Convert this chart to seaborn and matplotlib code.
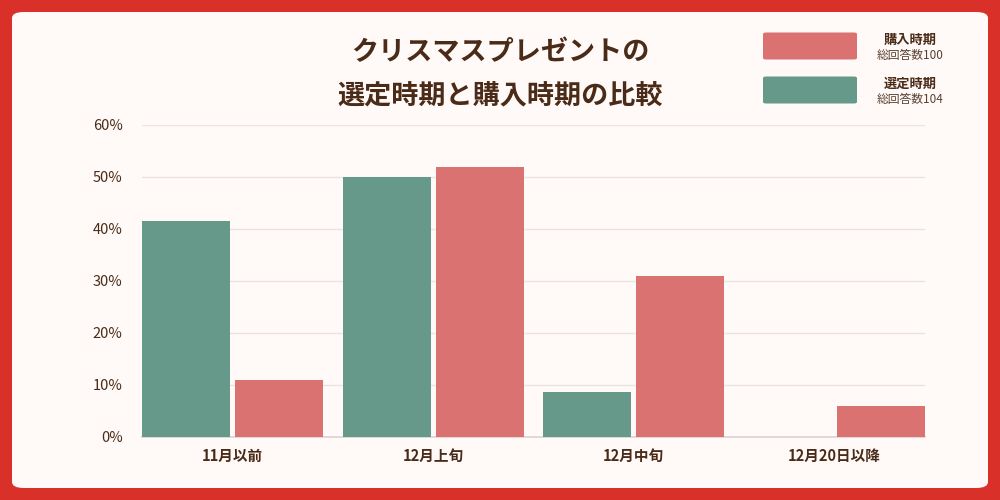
import pandas as pd
import matplotlib.pyplot as plt
import seaborn as sns
from matplotlib.patches import FancyBboxPatch

# data (percent)
periods = ['11月以前', '12月上旬', '12月中旬', '12月20日以降']
selected = [41.5, 50.0, 8.7, 0.0]     # 選定時期
purchased = [11.0, 52.0, 31.0, 5.9]   # 購入時期
series_names = ['選定時期', '購入時期']
series_totals = ['総回答数104', '総回答数100']
yticks = [0, 10, 20, 30, 40, 50, 60]

green = '#67998A'
red = '#D97271'
brown = '#4A2B17'

df = pd.DataFrame({
    'period': periods * 2,
    'value': selected + purchased,
    'series': [series_names[0]] * 4 + [series_names[1]] * 4,
})

sns.set_theme(style='white')
plt.rcParams['font.family'] = ['Noto Sans CJK JP', 'DejaVu Sans']

fig = plt.figure(figsize=(10, 5), dpi=100)
fig.patch.set_facecolor('#D9302A')
# white rounded panel behind everything
panel = FancyBboxPatch((0.012, 0.024), 0.976, 0.952, boxstyle='round,pad=0,rounding_size=0.012',
                       transform=fig.transFigure, facecolor='#FFFAF8', edgecolor='none', zorder=-10)
fig.patches.append(panel)

ax = fig.add_axes([0.142, 0.126, 0.783, 0.624])
ax.set_facecolor('none')
sns.barplot(data=df, x='period', y='value', hue='series', order=periods, hue_order=series_names,
            palette=[green, red], saturation=1, width=0.93, gap=0.055, linewidth=0,
            legend=False, ax=ax, zorder=3)

ax.set_xlim(-0.452, 3.452)
ax.set_ylim(0, 60)
ax.set_yticks(yticks)
ax.set_yticklabels([f'{t}%' for t in yticks], fontsize=10.5, color=brown)
ax.tick_params(axis='y', length=0, pad=14)
ax.tick_params(axis='x', length=0, pad=8)
for lab in ax.get_xticklabels():
    lab.set_fontweight('bold')
    lab.set_fontsize(10.5)
    lab.set_color(brown)
ax.set_xlabel('')
ax.set_ylabel('')
ax.yaxis.grid(True, color='#EAE3E1', linewidth=1, zorder=0)
ax.set_axisbelow(True)
for s in ['top', 'right', 'left']:
    ax.spines[s].set_visible(False)
ax.spines['bottom'].set_color('#DCD4D2')

fig.text(0.5, 0.895, 'クリスマスプレゼントの', ha='center', va='center',
         fontsize=19.5, fontweight='bold', color=brown)
fig.text(0.5, 0.81, '選定時期と購入時期の比較', ha='center', va='center',
         fontsize=19.5, fontweight='bold', color=brown)

# custom legend
legend_items = [(red, series_names[1], series_totals[1], 0.908),
                (green, series_names[0], series_totals[0], 0.82)]
for color, name, total, yc in legend_items:
    box = FancyBboxPatch((0.763, yc - 0.027), 0.094, 0.054, boxstyle='round,pad=0,rounding_size=0.003',
                         transform=fig.transFigure, facecolor=color, edgecolor='none')
    fig.patches.append(box)
    fig.text(0.910, yc + 0.013, name, ha='center', va='center', fontsize=9.5,
             fontweight='bold', color=brown)
    fig.text(0.910, yc - 0.019, total, ha='center', va='center', fontsize=8.5, color='#5A4030')

fig.savefig('out.png', dpi=100, facecolor=fig.get_facecolor())
